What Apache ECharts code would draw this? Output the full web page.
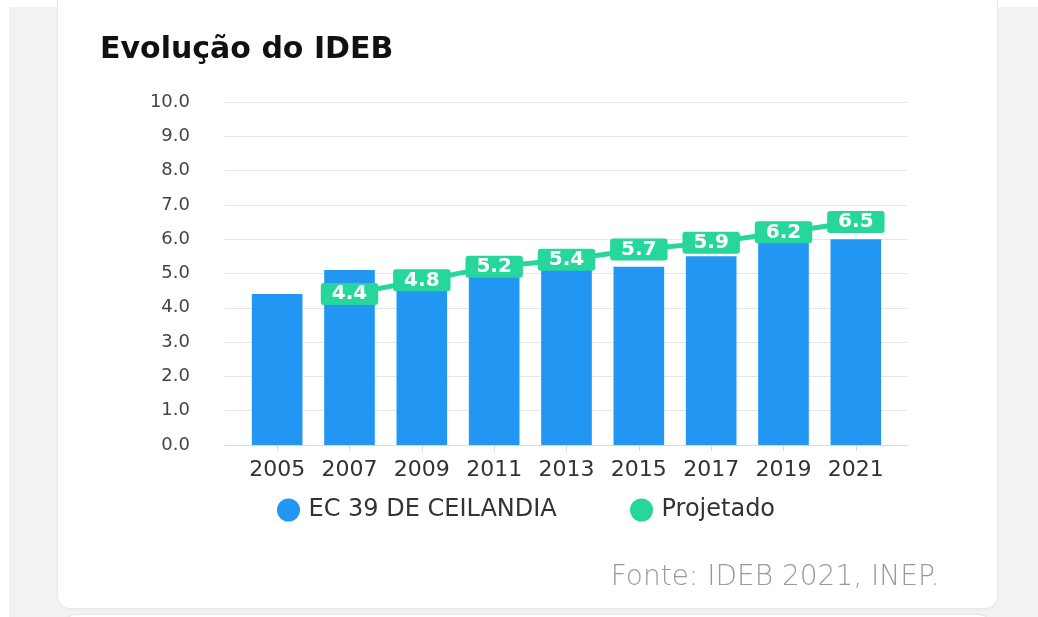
<!DOCTYPE html>
<html>
<head>
<meta charset="utf-8">
<script src="https://cdn.jsdelivr.net/npm/echarts@6/dist/echarts.min.js"></script>
<style>
  html, body { margin: 0; padding: 0; width: 1038px; height: 617px; overflow: hidden; background: #f1f2f4; }
  .band-top { position: absolute; left: 0; top: 0; width: 1038px; height: 7px; background: #ffffff; }
  .band-left { position: absolute; left: 0; top: 0; width: 9px; height: 617px; background: #ffffff; }
  .card { position: absolute; left: 58px; top: -30px; width: 939px; height: 638px; background: #ffffff;
          border-radius: 12px; box-shadow: 0 0 0 1px #e6e8eb, 0 1px 3px rgba(0,0,0,0.06); }
  .card2 { position: absolute; left: 64px; top: 615px; width: 927px; height: 60px; background: #ffffff;
          border-radius: 12px; box-shadow: 0 0 0 1px #e3e5e8; }
  #chart { position: absolute; left: 0; top: 0; width: 1038px; height: 617px; }
</style>
</head>
<body>
<div class="band-top"></div>
<div class="band-left"></div>
<div class="card"></div>
<div class="card2"></div>
<div id="chart"></div>
<script>
// ---- data ----
const years = ['2005', '2007', '2009', '2011', '2013', '2015', '2017', '2019', '2021'];
const escola = [4.4, 5.1, 4.6, 5.0, 5.2, 5.2, 5.5, 6.0, 6.0];
const projetado = [null, 4.4, 4.8, 5.2, 5.4, 5.7, 5.9, 6.2, 6.5];
const seriesNames = ['EC 39 DE CEILANDIA', 'Projetado'];
const chartTitle = 'Evolução do IDEB';
const sourceText = 'Fonte: IDEB 2021, INEP.';
const yMin = 0, yMax = 10, yStep = 1;

// ---- chart ----
const BLUE = '#2196f3';
const GREEN = '#27d69b';
const chart = echarts.init(document.getElementById('chart'), null, { renderer: 'canvas' });

const option = {
  backgroundColor: 'transparent',
  animation: false,
  title: {
    text: chartTitle,
    left: 95, top: 30,
    textStyle: { fontFamily: 'DejaVu Sans', fontSize: 30, fontWeight: 'bold', color: '#111111' }
  },
  legend: [
    {
      data: [seriesNames[0]], left: 272, top: 493, icon: 'circle',
      itemWidth: 30, itemHeight: 23,
      textStyle: { fontFamily: 'DejaVu Sans', fontSize: 24, color: '#333333' }
    },
    {
      data: [seriesNames[1]], left: 625, top: 493, icon: 'circle',
      itemWidth: 30, itemHeight: 23,
      textStyle: { fontFamily: 'DejaVu Sans', fontSize: 24, color: '#333333' }
    }
  ],
  grid: [
    { left: 225, right: 131, top: 102, bottom: 172 },
    { left: 241, right: 146, top: 102, bottom: 172 }
  ],
  xAxis: [
    {
      gridIndex: 0, type: 'value', min: 0, max: 1,
      axisLine: { show: true, onZero: false, lineStyle: { color: '#d9d9d9', width: 1 } },
      axisTick: { show: false }, axisLabel: { show: false }, splitLine: { show: false }
    },
    {
      gridIndex: 1, type: 'category', data: years,
      axisLine: { show: false },
      axisTick: { show: true, alignWithLabel: true, length: 6, lineStyle: { color: '#d9d9d9' } },
      axisLabel: { interval: 0, hideOverlap: false, margin: 14, fontFamily: 'DejaVu Sans', fontSize: 22, color: '#333333' },
      splitLine: { show: false }
    }
  ],
  yAxis: [
    {
      gridIndex: 0, type: 'value', min: yMin, max: yMax, interval: yStep,
      axisLine: { show: false }, axisTick: { show: false },
      axisLabel: { margin: 35, fontFamily: 'DejaVu Sans', fontSize: 18, color: '#444444',
                   formatter: v => v.toFixed(1) },
      splitLine: { show: true, lineStyle: { color: '#e6e6e6', width: 1 } }
    },
    {
      gridIndex: 1, type: 'value', min: yMin, max: yMax, interval: yStep,
      show: false, splitLine: { show: false }
    }
  ],
  series: [
    {
      name: seriesNames[0], type: 'bar', xAxisIndex: 1, yAxisIndex: 1,
      data: escola, barWidth: '70%',
      itemStyle: { color: BLUE }
    },
    {
      name: seriesNames[1], type: 'line', xAxisIndex: 1, yAxisIndex: 1,
      data: projetado, connectNulls: false,
      symbol: 'circle', symbolSize: 4,
      itemStyle: { color: GREEN },
      lineStyle: { color: GREEN, width: 5 },
      label: {
        show: true, position: 'inside',
        formatter: p => p.value == null ? '' : Number(p.value).toFixed(1),
        fontFamily: 'DejaVu Sans', fontSize: 20, fontWeight: 'bold', color: '#ffffff',
        backgroundColor: GREEN, borderRadius: 3, padding: [1, 11, 1, 11], lineHeight: 20
      },
      z: 5
    }
  ],
  graphic: [
    {
      type: 'text', x: 775, y: 578,
      style: {
        text: sourceText, fill: '#9a9a9a',
        font: '300 28px "DejaVu Sans"',
        align: 'center', verticalAlign: 'middle'
      }
    }
  ]
};
chart.setOption(option);
</script>
</body>
</html>
